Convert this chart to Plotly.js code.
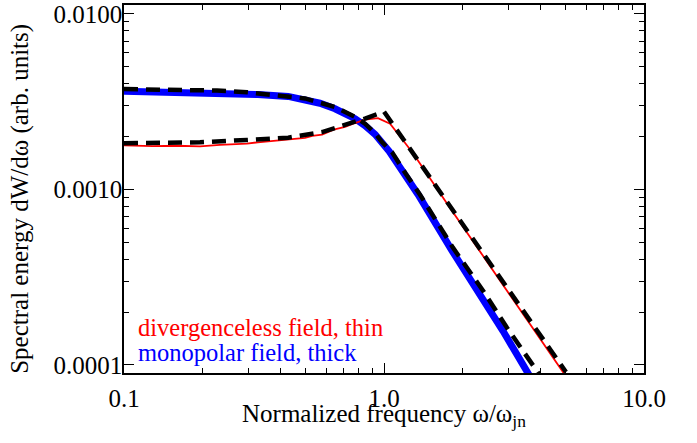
<!DOCTYPE html>
<html>
<head>
<meta charset="utf-8">
<script src="https://cdn.plot.ly/plotly-3.0.1.min.js"></script>
<style>
html,body{margin:0;padding:0;background:#fff;}
#chart{width:697px;height:443px;}
#chart svg text{font-family:'Liberation Serif' !important;}
</style>
</head>
<body>
<div id="chart"></div>
<script>
// Monopolar field, thick (blue): simulated spectrum
const monoX = [0.100, 0.129, 0.228, 0.297, 0.327, 0.428, 0.497, 0.567, 0.648, 0.774, 0.845, 0.924, 1.047, 1.352, 1.826, 2.340, 2.870, 3.670];
const monoY = [3.63e-3, 3.61e-3, 3.56e-3, 3.50e-3, 3.47e-3, 3.39e-3, 3.25e-3, 3.10e-3, 2.88e-3, 2.53e-3, 2.31e-3, 2.06e-3, 1.65e-3, 9.36e-4, 4.48e-4, 2.55e-4, 1.56e-4, 8.43e-5];
// Divergenceless field, thin (red): simulated spectrum
const divX = [0.100, 0.129, 0.160, 0.196, 0.234, 0.297, 0.327, 0.380, 0.428, 0.497, 0.530, 0.578, 0.640, 0.708, 0.774, 0.845, 0.948, 1.055, 1.183, 1.293, 1.795, 2.793, 3.981, 4.966];
const divY = [1.782e-3, 1.767e-3, 1.774e-3, 1.761e-3, 1.795e-3, 1.824e-3, 1.857e-3, 1.892e-3, 1.924e-3, 1.968e-3, 2.020e-3, 2.055e-3, 2.190e-3, 2.270e-3, 2.390e-3, 2.500e-3, 2.550e-3, 2.370e-3, 1.905e-3, 1.607e-3, 7.84e-4, 3.02e-4, 1.41e-4, 8.77e-5];
// Analytic curves (black dashed)
const monoFitX = [0.100, 0.150, 0.228, 0.297, 0.428, 0.497, 0.648, 0.774, 0.845, 0.924, 0.982, 1.073, 1.211, 1.374, 1.841, 2.404, 2.972, 3.810, 4.020];
const monoFitY = [3.73e-3, 3.70e-3, 3.66e-3, 3.58e-3, 3.40e-3, 3.30e-3, 2.95e-3, 2.59e-3, 2.37e-3, 2.09e-3, 1.862e-3, 1.633e-3, 1.233e-3, 9.36e-4, 4.66e-4, 2.65e-4, 1.63e-4, 9.6e-5, 8.53e-5];
const divFitX = [0.100, 0.137, 0.196, 0.297, 0.428, 0.578, 0.708, 0.845, 1.000, 5.010];
const divFitY = [1.832e-3, 1.840e-3, 1.857e-3, 1.914e-3, 1.972e-3, 2.123e-3, 2.322e-3, 2.535e-3, 2.773e-3, 9.12e-5];

const xTickVals = [0.1, 1, 10];
const xTickText = ['0.1', '1.0', '10.0'];
const yTickVals = [0.0001, 0.001, 0.01];
const yTickText = ['0.0001', '0.0010', '0.0100'];
const legendLabels = ['divergenceless field, thin', 'monopolar field, thick'];
const xTitle = 'Normalized frequency ω/ω<sub>jn</sub>';
const yTitle = 'Spectral energy dW/dω (arb. units)';

const FONT = 'Liberation Serif';
const xMinor = [], yMinor = [];
[0.1, 1].forEach(d => { for (let k = 2; k <= 9; k++) xMinor.push(d * k); });
[0.0001, 0.001, 0.01].forEach(d => { for (let k = 2; k <= 9; k++) yMinor.push(d * k); });

const traces = [
  {x: monoX, y: monoY, mode: 'lines', line: {color: '#0000ff', width: 7}, hoverinfo: 'skip'},
  {x: divX, y: divY, mode: 'lines', line: {color: '#ff0000', width: 1.8}, hoverinfo: 'skip'},
  {x: monoFitX, y: monoFitY, mode: 'lines', line: {color: '#000000', width: 4.5, dash: '14px,8px'}, hoverinfo: 'skip'},
  {x: divFitX, y: divFitY, mode: 'lines', line: {color: '#000000', width: 4.5, dash: '14px,8px'}, hoverinfo: 'skip'}
];

function makeAxis(extra) {
  return Object.assign({
    type: 'log', showgrid: false, zeroline: false,
    showline: true, linecolor: '#000', linewidth: 1.5, mirror: 'allticks',
    ticks: 'inside', ticklen: 10, tickwidth: 1.2, tickcolor: '#000',
    tickfont: {family: FONT, size: 25, color: '#000'},
    tickmode: 'array'
  }, extra);
}

const layout = {
  width: 697, height: 443,
  margin: {l: 124, r: 53, t: 5, b: 70},
  paper_bgcolor: '#fff', plot_bgcolor: '#fff',
  showlegend: false,
  font: {family: FONT, color: '#000'},
  xaxis: makeAxis({
    range: [-1, 1], tickvals: xTickVals, ticktext: xTickText, ticklabelstandoff: 2,
    minor: {tickmode: 'array', tickvals: xMinor, ticks: 'inside', ticklen: 5, tickwidth: 1.2, tickcolor: '#000'}
  }),
  yaxis: makeAxis({
    range: [-4.046, -1.949], tickvals: yTickVals, ticktext: yTickText, ticklabelstandoff: -5,
    minor: {tickmode: 'array', tickvals: yMinor, ticks: 'inside', ticklen: 5, tickwidth: 1.2, tickcolor: '#000'}
  }),
  annotations: [
    {xref: 'paper', yref: 'paper', x: 0.5, y: -0.116, xanchor: 'center', yanchor: 'middle', showarrow: false, borderpad: 0,
     text: xTitle, font: {family: FONT, size: 25, color: '#000'}},
    {xref: 'paper', yref: 'paper', x: -0.199, y: 0.472, xanchor: 'center', yanchor: 'middle', showarrow: false,
     textangle: -90, text: yTitle, font: {family: FONT, size: 25, color: '#000'}},
    {xref: 'paper', yref: 'paper', x: 0.025, y: 0.124, xanchor: 'left', yanchor: 'middle', showarrow: false, borderpad: 0,
     text: legendLabels[0], font: {family: FONT, size: 24.5, color: '#ff0000'}},
    {xref: 'paper', yref: 'paper', x: 0.025, y: 0.056, xanchor: 'left', yanchor: 'middle', showarrow: false, borderpad: 0,
     text: legendLabels[1], font: {family: FONT, size: 24.5, color: '#0000ff'}}
  ]
};

Plotly.newPlot('chart', traces, layout, {displayModeBar: false});
</script>
</body>
</html>
